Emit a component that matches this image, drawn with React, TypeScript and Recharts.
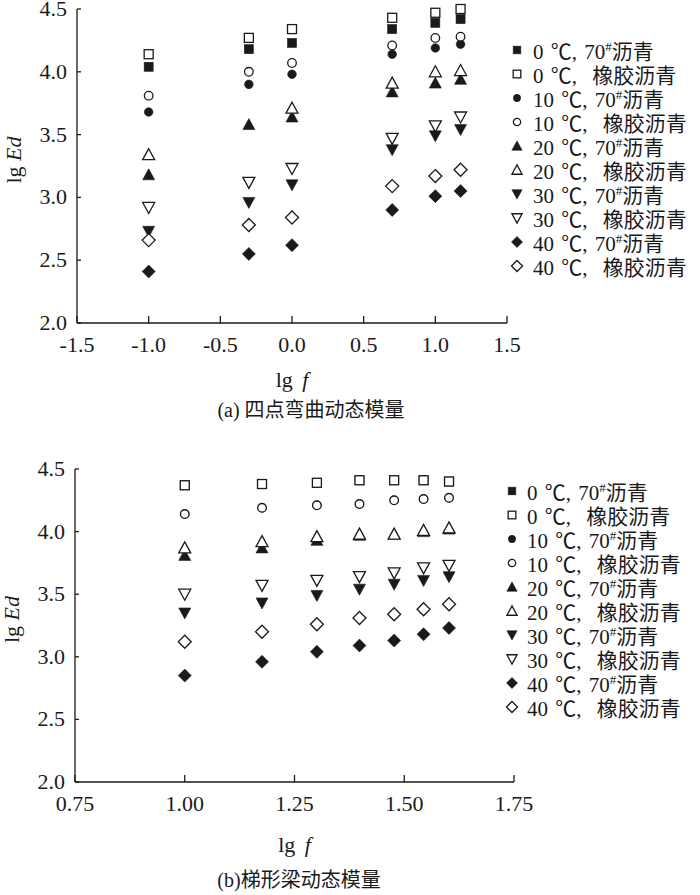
import React from 'react';
import { ScatterChart, Scatter, XAxis, YAxis, Legend, Label } from 'recharts';

// lg f values (frequency 0.1 ~ 15 Hz for four-point bending, 10 ~ 40 Hz for trapezoid beam)
const lgfA = [-1.0, -0.301, 0.0, 0.699, 1.0, 1.176];
const lgfB = [1.0, 1.176, 1.301, 1.398, 1.477, 1.544, 1.602];

// (a) four-point bending, lg Ed
const a0_70 = [4.04, 4.18, 4.23, 4.34, 4.39, 4.42];
const a0_rub = [4.14, 4.27, 4.34, 4.43, 4.47, 4.5];
const a10_70 = [3.68, 3.9, 3.98, 4.14, 4.19, 4.22];
const a10_rub = [3.81, 4.0, 4.07, 4.21, 4.27, 4.28];
const a20_70 = [3.18, 3.58, 3.64, 3.84, 3.91, 3.94];
const a20_rub = [3.34, null, 3.71, 3.91, 4.0, 4.01];
const a30_70 = [2.73, 2.96, 3.1, 3.38, 3.49, 3.54];
const a30_rub = [2.92, 3.12, 3.23, 3.47, 3.57, 3.64];
const a40_70 = [2.41, 2.55, 2.62, 2.9, 3.01, 3.05];
const a40_rub = [2.66, 2.78, 2.84, 3.09, 3.17, 3.22];

// (b) trapezoid beam, lg Ed
const b0_70 = [4.37, 4.38, 4.39, 4.41, 4.41, 4.41, 4.4];
const b0_rub = [4.37, 4.38, 4.39, 4.41, 4.41, 4.41, 4.4];
const b10_70 = [4.14, 4.19, 4.21, 4.22, 4.25, 4.26, 4.27];
const b10_rub = [4.14, 4.19, 4.21, 4.22, 4.25, 4.26, 4.27];
const b20_70 = [3.81, 3.87, 3.93, 3.97, 3.98, 4.0, 4.02];
const b20_rub = [3.87, 3.92, 3.96, 3.98, 3.98, 4.01, 4.03];
const b30_70 = [3.35, 3.43, 3.49, 3.54, 3.58, 3.61, 3.64];
const b30_rub = [3.5, 3.57, 3.61, 3.64, 3.67, 3.71, 3.73];
const b40_70 = [2.85, 2.96, 3.04, 3.09, 3.13, 3.18, 3.23];
const b40_rub = [3.12, 3.2, 3.26, 3.31, 3.34, 3.38, 3.42];

const temps = ['0', '0', '10', '10', '20', '20', '30', '30', '40', '40'];
const binders = ['70', '橡胶', '70', '橡胶', '70', '橡胶', '70', '橡胶', '70', '橡胶'];
const shapes = ['square', 'square', 'circle', 'circle', 'up', 'up', 'down', 'down', 'diamond', 'diamond'];

const yTicks = [2.0, 2.5, 3.0, 3.5, 4.0, 4.5];
const xTicksA = [-1.5, -1.0, -0.5, 0.0, 0.5, 1.0, 1.5];
const xTicksB = [0.75, 1.0, 1.25, 1.5, 1.75];

const seriesA = [a0_70, a0_rub, a10_70, a10_rub, a20_70, a20_rub, a30_70, a30_rub, a40_70, a40_rub];
const seriesB = [b0_70, b0_rub, b10_70, b10_rub, b20_70, b20_rub, b30_70, b30_rub, b40_70, b40_rub];

const INK = '#1a1a1a';
const SERIF = '"Liberation Serif", "Noto Sans CJK SC", serif';

function toPoints(xs: number[], ys: (number | null)[]) {
  return xs
    .map((x, i) => ({ x, y: ys[i] }))
    .filter((p) => p.y !== null);
}

function Marker({ kind, filled, cx, cy, k = 1 }: any) {
  const p = {
    fill: filled ? INK : '#fff',
    stroke: INK,
    strokeWidth: filled ? 0.6 : 1.3,
  };
  if (kind === 'square') {
    const h = 4.5 * k;
    return <rect x={cx - h} y={cy - h} width={2 * h} height={2 * h} {...p} />;
  }
  if (kind === 'circle') {
    return <circle cx={cx} cy={cy} r={4.3 * k} {...p} />;
  }
  if (kind === 'up') {
    const w = 6 * k;
    return <path d={`M${cx},${cy - 6 * k}L${cx + w},${cy + 5 * k}L${cx - w},${cy + 5 * k}Z`} {...p} />;
  }
  if (kind === 'down') {
    const w = 6 * k;
    return <path d={`M${cx},${cy + 6 * k}L${cx + w},${cy - 5 * k}L${cx - w},${cy - 5 * k}Z`} {...p} />;
  }
  const d = 6.5 * k;
  return <path d={`M${cx},${cy - d}L${cx + d},${cy}L${cx},${cy + d}L${cx - d},${cy}Z`} {...p} />;
}

function XTick({ x, y, payload, digits }: any) {
  return (
    <g>
      <line x1={x} x2={x} y1={y} y2={y - 7} stroke={INK} strokeWidth={1.3} />
      <text x={x} y={y + 29} textAnchor="middle" fontSize={22} fontFamily={SERIF} fill={INK}>
        {Number(payload.value).toFixed(digits)}
      </text>
    </g>
  );
}

function YTick({ x, y, payload }: any) {
  return (
    <g>
      <line x1={x} x2={x + 4} y1={y} y2={y} stroke={INK} strokeWidth={1.3} />
      <text x={x - 10} y={y + 7} textAnchor="end" fontSize={22} fontFamily={SERIF} fill={INK}>
        {Number(payload.value).toFixed(1)}
      </text>
    </g>
  );
}

const xTitle = (dy: number) => (props: any) => {
  const vb = props.viewBox || {};
  return (
    <text x={vb.x + vb.width / 2} y={vb.y + dy} textAnchor="middle" fontSize={22} fontFamily={SERIF} fill={INK}>
      lg <tspan dx={4} fontStyle="italic">f</tspan>
    </text>
  );
};

const yTitle = (props: any) => {
  const vb = props.viewBox || {};
  const x = vb.x + 4;
  const y = vb.y + vb.height / 2 - 6;
  return (
    <text x={x} y={y} transform={`rotate(-90 ${x} ${y})`} textAnchor="middle" fontSize={22} fontFamily={SERIF} fill={INK}>
      lg <tspan fontStyle="italic">Ed</tspan>
    </text>
  );
};

function LegendBlock({ gap }: { gap: number }) {
  return (
    <div style={{ fontFamily: SERIF, fontSize: 21, color: INK, wordSpacing: 2 }}>
      {temps.map((t, i) => (
        <div key={i} style={{ display: 'flex', alignItems: 'center', height: 24, whiteSpace: 'nowrap' }}>
          <svg width={16} height={16} style={{ marginRight: gap, flex: 'none' }}>
            <Marker kind={shapes[i]} filled={i % 2 === 0} cx={8} cy={8} k={0.85} />
          </svg>
          <span>
            {t} ℃,{' '}
            {binders[i] === '70' ? (
              <>
                70<sup style={{ fontSize: 13, lineHeight: 0 }}>#</sup>沥青
              </>
            ) : (
              <span style={{ marginLeft: 8 }}>橡胶沥青</span>
            )}
          </span>
        </div>
      ))}
    </div>
  );
}

function Panel({ xs, series, xDomain, xTicks, digits, width, height, margin, legendPos, legendGap, titleDy }: any) {
  return (
    <ScatterChart width={width} height={height} margin={margin}>
      <XAxis
        type="number"
        dataKey="x"
        domain={xDomain}
        ticks={xTicks}
        interval={0}
        height={30}
        tickSize={0}
        tickMargin={0}
        tickLine={false}
        axisLine={{ stroke: INK, strokeWidth: 1.3 }}
        tick={<XTick digits={digits} />}
      >
        <Label content={xTitle(titleDy)} />
      </XAxis>
      <YAxis
        type="number"
        dataKey="y"
        domain={[2, 4.5]}
        ticks={yTicks}
        interval={0}
        width={60}
        tickSize={0}
        tickMargin={0}
        tickLine={false}
        axisLine={{ stroke: INK, strokeWidth: 1.3 }}
        tick={<YTick />}
      >
        <Label content={yTitle} />
      </YAxis>
      <Legend
        layout="vertical"
        align="center"
        verticalAlign="middle"
        wrapperStyle={{ top: legendPos.top, left: legendPos.left, width: 200 }}
        content={() => <LegendBlock gap={legendGap} />}
      />
      {series.map((ys: (number | null)[], i: number) => (
        <Scatter
          key={i}
          name={`${temps[i]} ℃, ${binders[i]}`}
          data={toPoints(xs, ys)}
          isAnimationActive={false}
          shape={(p: any) => <Marker kind={shapes[i]} filled={i % 2 === 0} cx={p.cx} cy={p.cy} />}
        />
      ))}
    </ScatterChart>
  );
}

export default function App() {
  return (
    <div style={{ position: 'absolute', left: 0, top: 0, width: 700, height: 895, background: '#fff' }}>
      <div style={{ position: 'absolute', left: 0, top: 0 }}>
        <Panel
          xs={lgfA}
          series={seriesA}
          xDomain={[-1.5, 1.5]}
          xTicks={xTicksA}
          digits={1}
          width={700}
          height={440}
          margin={{ top: 9, right: 193, left: 17, bottom: 87 }}
          legendPos={{ top: 38, left: 509 }}
          legendGap={8}
          titleDy={64}
        />
      </div>
      <div style={{ position: 'absolute', left: 0, top: 398, width: 622, textAlign: 'center', fontFamily: SERIF, fontSize: 20, lineHeight: '24px', color: INK }}>
        (a) 四点弯曲动态模量
      </div>
      <div style={{ position: 'absolute', left: 0, top: 440 }}>
        <Panel
          xs={lgfB}
          series={seriesB}
          xDomain={[0.75, 1.75]}
          xTicks={xTicksB}
          digits={2}
          width={700}
          height={455}
          margin={{ top: 29, right: 186, left: 15, bottom: 83 }}
          legendPos={{ top: 39, left: 504 }}
          legendGap={7}
          titleDy={70}
        />
      </div>
      <div style={{ position: 'absolute', left: 0, top: 868, width: 598, textAlign: 'center', fontFamily: SERIF, fontSize: 20, lineHeight: '24px', color: INK }}>
        (b)梯形梁动态模量
      </div>
    </div>
  );
}
